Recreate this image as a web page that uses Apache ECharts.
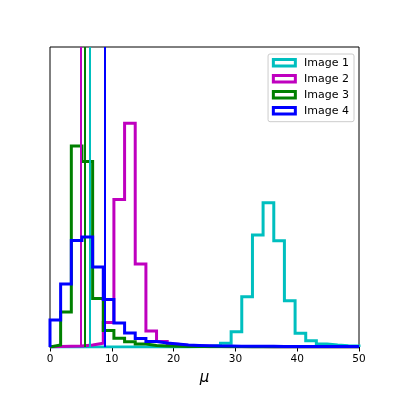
<!DOCTYPE html>
<html>
<head>
<meta charset="utf-8">
<script src="https://cdn.jsdelivr.net/npm/echarts@6/dist/echarts.min.js"></script>
<style>html,body{margin:0;padding:0;background:#fff}#c{width:399px;height:399px}</style>
</head>
<body>
<div id="c"></div>
<script>
// Shared bin edges (29 bins over 0..50)
const binEdges = [0, 1.72, 3.45, 5.17, 6.90, 8.62, 10.34, 12.07, 13.79, 15.52, 17.24, 18.97, 20.69, 22.41, 24.14, 25.86, 27.59, 29.31, 31.03, 32.76, 34.48, 36.21, 37.93, 39.66, 41.38, 43.10, 44.83, 46.55, 48.28, 50];
const seriesNames = ['Image 1', 'Image 2', 'Image 3', 'Image 4'];
// Density per bin
const image1 = [0, 0, 0, 0, 0, 0, 0, 0, 0, 0, 0, 0, 0, 0.0004, 0.0008, 0.0018, 0.0043, 0.0179, 0.0587, 0.1307, 0.1684, 0.124, 0.054, 0.016, 0.0074, 0.0035, 0.0023, 0.0015, 0.0012];
const image2 = [0.0006, 0.0008, 0.0012, 0.0023, 0.0043, 0.0286, 0.1721, 0.261, 0.0968, 0.0187, 0.0064, 0.0032, 0.0018, 0.0012, 0.0008, 0.0006, 0.0004, 0.0003, 0.0002, 0.0002, 0.0001, 0.0001, 0, 0, 0, 0, 0, 0, 0];
const image3 = [0.0023, 0.0408, 0.2345, 0.2164, 0.0566, 0.0193, 0.0102, 0.0062, 0.0035, 0.0018, 0.0012, 0.0008, 0.0006, 0.0005, 0.0004, 0.0003, 0.0002, 0.0002, 0.0001, 0.0001, 0.0001, 0, 0, 0, 0, 0, 0, 0, 0];
const image4 = [0.0315, 0.0735, 0.1243, 0.1283, 0.0933, 0.0554, 0.028, 0.0163, 0.0099, 0.0064, 0.0047, 0.0035, 0.0023, 0.0018, 0.0014, 0.0012, 0.0012, 0.0009, 0.0009, 0.0008, 0.0008, 0.0007, 0.0007, 0.0006, 0.0006, 0.0006, 0.0006, 0.0006, 0.0006];
// Mean markers (vertical lines)
const means = [6.47, 5.0, 5.55, 8.9];
const xTicks = [0, 10, 20, 30, 40, 50];
const colors = ['#00bfbf', '#bf00bf', '#008000', '#0000ff'];

const allValues = [image1, image2, image3, image4];

function stepPoints(vals) {
  const pts = [[binEdges[0], 0]];
  for (let i = 0; i < vals.length; i++) {
    pts.push([binEdges[i], vals[i]]);
    pts.push([binEdges[i + 1], vals[i]]);
  }
  pts.push([binEdges[binEdges.length - 1], 0]);
  return pts;
}

const FONT = 'DejaVu Sans';
const series = seriesNames.map((name, k) => ({
  name: name,
  type: 'line',
  data: stepPoints(allValues[k]),
  showSymbol: false,
  symbol: 'none',
  color: colors[k],
  lineStyle: { color: colors[k], width: 3, join: 'miter' },
  itemStyle: { color: colors[k] },
  z: 2 + k,
  markLine: {
    silent: true,
    symbol: 'none',
    label: { show: false },
    lineStyle: { color: colors[k], width: 2, type: 'solid' },
    data: [{ xAxis: means[k] }]
  }
}));

const chart = echarts.init(document.getElementById('c'), null, { renderer: 'canvas' });
chart.setOption({
  animation: false,
  backgroundColor: '#fff',
  textStyle: { fontFamily: FONT },
  grid: { left: 50, right: 40, top: 47, bottom: 52, show: true, borderColor: '#000', borderWidth: 1, backgroundColor: 'transparent' },
  xAxis: {
    type: 'value',
    min: xTicks[0],
    max: xTicks[xTicks.length - 1],
    interval: 10,
    name: 'μ',
    nameLocation: 'middle',
    nameGap: 24,
    nameTextStyle: { fontFamily: FONT, fontStyle: 'italic', fontSize: 15, color: '#000' },
    axisLine: { show: true, lineStyle: { color: '#000', width: 1 } },
    axisTick: { show: true, length: 4.5, lineStyle: { color: '#000', width: 1 } },
    axisLabel: { fontFamily: FONT, fontSize: 10.5, color: '#000', margin: 7 },
    splitLine: { show: false }
  },
  yAxis: {
    type: 'value',
    min: 0,
    max: 0.35,
    show: false
  },
  legend: {
    orient: 'vertical',
    right: 45,
    top: 54,
    padding: [2.7, 5, 5, 3.8],
    itemWidth: 22,
    itemHeight: 6.5,
    itemGap: 4,
    borderColor: '#ccc',
    borderWidth: 1,
    borderRadius: 2,
    backgroundColor: 'rgba(255,255,255,0.8)',
    textStyle: { fontFamily: FONT, fontSize: 11, color: '#000', padding: [0, 0, 0, 3.7], lineHeight: 12 },
    data: seriesNames.map((n, k) => ({
      name: n,
      icon: 'rect',
      itemStyle: { color: '#fff', borderColor: colors[k], borderWidth: 3 }
    }))
  },
  series: series
});
</script>
</body>
</html>
